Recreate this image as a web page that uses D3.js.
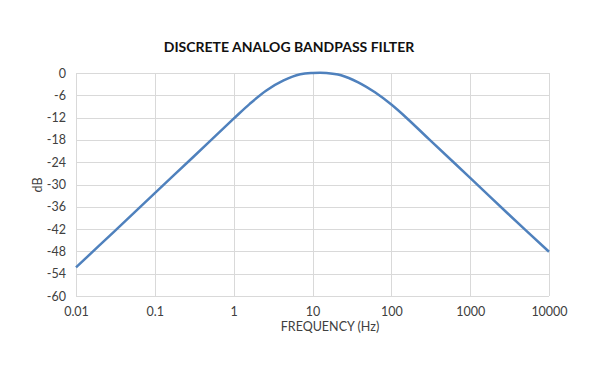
<!DOCTYPE html>
<html>
<head>
<meta charset="utf-8">
<script src="https://cdn.jsdelivr.net/npm/d3@7"></script>
<style>
  body { margin: 0; background: #fff; }
  text { font-family: Lato, "Open Sans", sans-serif; }
</style>
</head>
<body>
<svg id="chart" width="600" height="373"></svg>
<script>
var freq = [0.01, 0.03, 0.1, 0.3, 1, 1.6, 2.6, 4.3, 7, 10, 15, 23, 38, 62, 100, 160, 300, 1000, 3000, 10000];
var gain = [-52.3, -42.8, -32.3, -22.8, -12.3, -8.3, -4.7, -2.0, -0.35, 0, 0, -0.6, -2.5, -5.2, -8.5, -12.3, -17.8, -28.2, -37.8, -48.1];
var xTicks = [0.01, 0.1, 1, 10, 100, 1000, 10000];
var yTicks = [0, -6, -12, -18, -24, -30, -36, -42, -48, -54, -60];

var svg = d3.select('#chart');
var plotLeft = 76, plotRight = 549, plotTop = 73, plotBottom = 296;

var x = d3.scaleLog().domain([0.01, 10000]).range([plotLeft, plotRight]);
var y = d3.scaleLinear().domain([-60, 0]).range([plotBottom, plotTop]);

// grid
svg.append('g').selectAll('line')
    .data(yTicks).enter().append('line')
    .attr('x1', plotLeft).attr('x2', plotRight)
    .attr('y1', function(d) { return Math.round(y(d)) + 0.5; })
    .attr('y2', function(d) { return Math.round(y(d)) + 0.5; })
    .attr('stroke', '#d9d9d9').attr('stroke-width', 1);

svg.append('g').selectAll('line')
    .data(xTicks).enter().append('line')
    .attr('y1', plotTop).attr('y2', plotBottom)
    .attr('x1', function(d) { return Math.round(x(d)) + 0.5; })
    .attr('x2', function(d) { return Math.round(x(d)) + 0.5; })
    .attr('stroke', '#d9d9d9').attr('stroke-width', 1);

// axes (labels only, lines come from grid)
var yAxis = d3.axisLeft(y).tickValues(yTicks).tickSize(0).tickPadding(10)
    .tickFormat(function(d) { return String(d); });
var gy = svg.append('g').attr('transform', 'translate(' + plotLeft + ',0)').call(yAxis);
gy.select('.domain').remove();
gy.selectAll('text').attr('font-size', 12.5).attr('fill', '#404040')
    .style('font-family', 'Lato, "Open Sans", sans-serif');

var xAxis = d3.axisBottom(x).tickValues(xTicks).tickSize(0).tickPadding(11)
    .tickFormat(function(d) { return String(d); });
var gx = svg.append('g').attr('transform', 'translate(0,' + plotBottom + ')').call(xAxis);
gx.select('.domain').remove();
gx.selectAll('text').attr('font-size', 12.5).attr('fill', '#404040')
    .style('font-family', 'Lato, "Open Sans", sans-serif');

// curve
var line = d3.line()
    .x(function(d, i) { return x(freq[i]); })
    .y(function(d) { return y(d); })
    .curve(d3.curveCatmullRom.alpha(0.5));

svg.append('path')
    .datum(gain)
    .attr('d', line)
    .attr('fill', 'none')
    .attr('stroke', '#4f81bd')
    .attr('stroke-width', 2.5);

// titles
svg.append('text')
    .attr('x', 289).attr('y', 52)
    .attr('text-anchor', 'middle')
    .attr('font-size', 14).attr('font-weight', 'bold').attr('fill', '#111')
    .text('DISCRETE ANALOG BANDPASS FILTER');

svg.append('text')
    .attr('x', 330).attr('y', 331)
    .attr('text-anchor', 'middle')
    .attr('font-size', 12.5).attr('fill', '#404040')
    .text('FREQUENCY (Hz)');

svg.append('text')
    .attr('transform', 'translate(42,185) rotate(-90)')
    .attr('text-anchor', 'middle')
    .attr('font-size', 12.5).attr('fill', '#404040')
    .text('dB');
</script>
</body>
</html>
